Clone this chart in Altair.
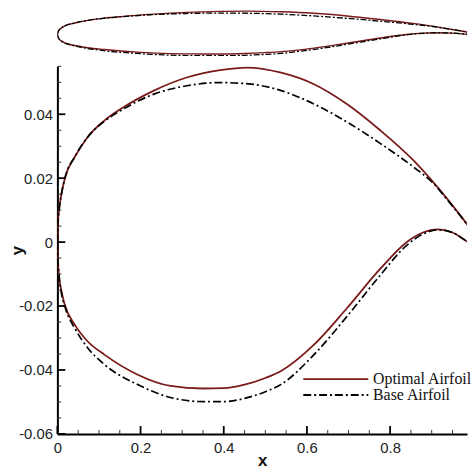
import altair as alt
import pandas as pd

# ---------------- data ----------------
series_names = ["Optimal Airfoil", "Base Airfoil"]

opt_upper_x = [0.0, 0.0015, 0.004, 0.009, 0.018, 0.042, 0.073, 0.113, 0.153, 0.232, 0.311,
               0.391, 0.456, 0.538, 0.617, 0.696, 0.776, 0.855, 0.919, 0.982, 1.0]
opt_upper_y = [0.0, 0.006, 0.0100, 0.0145, 0.0200, 0.0267, 0.0329, 0.0380, 0.0417, 0.0474, 0.0515,
               0.0538, 0.0546, 0.0530, 0.0494, 0.0432, 0.0350, 0.0257, 0.0164, 0.0061, 0.0030]

opt_lower_x = [0.0, 0.0015, 0.004, 0.009, 0.018, 0.042, 0.073, 0.113, 0.192, 0.272, 0.351, 0.400,
               0.450, 0.500, 0.538, 0.617, 0.696, 0.776, 0.839, 0.879, 0.915, 0.950, 0.987, 1.0]
opt_lower_y = [0.0, -0.006, -0.0105, -0.0148, -0.0197, -0.0259, -0.0311, -0.0352, -0.0414, -0.0450,
               -0.0458, -0.0457, -0.0446, -0.0425, -0.0403, -0.0321, -0.0207, -0.0084, -0.0001,
               0.0030, 0.0040, 0.0030, 0.0000, -0.0010]

base_upper_x = [0.0, 0.0015, 0.004, 0.009, 0.018, 0.042, 0.073, 0.113, 0.153, 0.232, 0.311, 0.391,
                0.460, 0.538, 0.617, 0.696, 0.776, 0.855, 0.903, 0.950, 0.982, 1.0]
base_upper_y = [0.0, 0.006, 0.0100, 0.0145, 0.0200, 0.0267, 0.0329, 0.0378, 0.0412, 0.0463, 0.0489,
                0.0499, 0.0495, 0.0474, 0.0432, 0.0376, 0.0309, 0.0236, 0.0185, 0.0112, 0.0061, 0.0030]

base_lower_x = [0.0, 0.0015, 0.004, 0.009, 0.020, 0.042, 0.073, 0.113, 0.192, 0.272, 0.351, 0.400,
                0.450, 0.500, 0.538, 0.617, 0.696, 0.776, 0.839, 0.879, 0.915, 0.950, 0.987, 1.0]
base_lower_y = [0.0, -0.006, -0.0108, -0.0155, -0.0210, -0.0270, -0.0331, -0.0383, -0.0445, -0.0486,
                -0.0499, -0.0499, -0.0489, -0.0468, -0.0445, -0.0352, -0.0233, -0.0104, -0.0011,
                0.0025, 0.0038, 0.0030, 0.0000, -0.0010]

x_major = [0, 0.2, 0.4, 0.6, 0.8]
x_minor = [0.05, 0.1, 0.15, 0.25, 0.3, 0.35, 0.45, 0.5, 0.55, 0.65, 0.7, 0.75, 0.85, 0.9, 0.95]
y_major = [-0.06, -0.04, -0.02, 0, 0.02, 0.04]
y_minor = [-0.055, -0.05, -0.045, -0.035, -0.03, -0.025, -0.015, -0.01, -0.005,
           0.005, 0.01, 0.015, 0.025, 0.03, 0.035, 0.045, 0.05, 0.055]


def surface_df(xu, yu, xl, yl):
    up = pd.DataFrame({"x": xu, "y": yu, "surface": "upper"})
    lo = pd.DataFrame({"x": xl, "y": yl, "surface": "lower"})
    return pd.concat([up, lo], ignore_index=True)


opt_df = surface_df(opt_upper_x, opt_upper_y, opt_lower_x, opt_lower_y)
base_df = surface_df(base_upper_x, base_upper_y, base_lower_x, base_lower_y)

# ---------------- styling ----------------
RED = "#7a1a1a"
DASHDOT = [8, 3, 2, 3]
W = 414
H = 371.5
X_DOMAIN = [0, 0.985]
Y_DOMAIN = [-0.06, 0.055]
FONT = "Liberation Sans"

xs = alt.Scale(domain=X_DOMAIN, nice=False, zero=False)
ys = alt.Scale(domain=Y_DOMAIN, nice=False, zero=False)

x_axis = alt.Axis(values=x_major, title="x", labelFlush=False, labelOverlap=False, ticks=False,
                  labelFont=FONT, labelFontSize=15, labelColor="#222", labelPadding=7,
                  labelExpr="datum.value == 0 ? '0' : format(datum.value, '.1f')",
                  titleFont=FONT, titleFontSize=17, titleFontWeight="bold", titleColor="#111",
                  titleY=26.5, titleBaseline="middle",
                  domainColor="black", domainWidth=2, grid=False)
y_axis = alt.Axis(values=y_major, title="y", labelOverlap=False, ticks=False,
                  labelFont=FONT, labelFontSize=15, labelColor="#222", labelPadding=5,
                  labelExpr="datum.value == 0 ? '0' : (datum.value < 0 ? '-' : '') + format(abs(datum.value), '.2f')",
                  titleFont=FONT, titleFontSize=17, titleFontWeight="bold", titleColor="#111",
                  titleAngle=270, titleX=-40, titleY=H / 2, titleAlign="center", titleBaseline="middle",
                  domainColor="black", domainWidth=2, grid=False)


def X(field):
    return alt.X(field, scale=xs, axis=x_axis)


def Y(field):
    return alt.Y(field, scale=ys, axis=y_axis)


opt_main = alt.Chart(opt_df).mark_line(color=RED, strokeWidth=1.8, interpolate="monotone", clip=True).encode(
    x=X("x:Q"), y=Y("y:Q"), detail="surface:N")
base_main = alt.Chart(base_df).mark_line(color="black", strokeWidth=1.7, strokeDash=DASHDOT,
                                         interpolate="monotone", clip=True).encode(
    x=X("x:Q"), y=Y("y:Q"), detail="surface:N")

ymaj = alt.Chart(pd.DataFrame({"y": y_major})).mark_rule(color="black", strokeWidth=1.8).encode(
    y=Y("y:Q"), x=alt.value(0), x2=alt.value(8))
ymin = alt.Chart(pd.DataFrame({"y": y_minor})).mark_rule(color="#333", strokeWidth=1).encode(
    y=Y("y:Q"), x=alt.value(0), x2=alt.value(4))
xmaj = alt.Chart(pd.DataFrame({"x": x_major})).mark_rule(color="black", strokeWidth=1.8).encode(
    x=X("x:Q"), y=alt.value(H), y2=alt.value(H - 8))
xmin = alt.Chart(pd.DataFrame({"x": x_minor})).mark_rule(color="#333", strokeWidth=1).encode(
    x=X("x:Q"), y=alt.value(H), y2=alt.value(H - 4))

# manual legend (inside plot, bottom right)
LEG_X0, LEG_X1, LEG_TX = 248.5, 314.2, 319.0
LEG_Y = [316.2, 332.2]
leg_opt_line = alt.Chart(pd.DataFrame({"s": [series_names[0]]})).mark_rule(color=RED, strokeWidth=1.8).encode(
    x=alt.value(LEG_X0), x2=alt.value(LEG_X1), y=alt.value(LEG_Y[0]))
leg_base_line = alt.Chart(pd.DataFrame({"s": [series_names[1]]})).mark_rule(
    color="black", strokeWidth=1.8, strokeDash=DASHDOT).encode(
    x=alt.value(LEG_X0), x2=alt.value(LEG_X1), y=alt.value(LEG_Y[1]))
leg_opt_txt = alt.Chart(pd.DataFrame({"s": [series_names[0]]})).mark_text(
    align="left", baseline="middle", font="Liberation Serif", fontSize=16, color="#111").encode(
    text="s:N", x=alt.value(LEG_TX), y=alt.value(LEG_Y[0]))
leg_base_txt = alt.Chart(pd.DataFrame({"s": [series_names[1]]})).mark_text(
    align="left", baseline="middle", font="Liberation Serif", fontSize=16, color="#111").encode(
    text="s:N", x=alt.value(LEG_TX), y=alt.value(LEG_Y[1]))

main = alt.layer(opt_main, base_main, ymin, ymaj, xmin, xmaj,
                 leg_opt_line, leg_base_line, leg_opt_txt, leg_base_txt).properties(width=W, height=H)

# inset: airfoil drawn near true aspect ratio above the plot
ys_in = alt.Scale(domain=[-0.0503, 0.0701], nice=False, zero=False)
opt_in = alt.Chart(opt_df).mark_line(color=RED, strokeWidth=1.4, interpolate="monotone", clip=True).encode(
    x=alt.X("x:Q", scale=xs, axis=None), y=alt.Y("y:Q", scale=ys_in, axis=None), detail="surface:N")
base_in = alt.Chart(base_df).mark_line(color="black", strokeWidth=1.3, strokeDash=[6, 2, 2, 2],
                                       interpolate="monotone", clip=True).encode(
    x=alt.X("x:Q", scale=xs, axis=None), y=alt.Y("y:Q", scale=ys_in, axis=None), detail="surface:N")
inset = alt.layer(opt_in, base_in).properties(width=W, height=52)

chart = alt.vconcat(inset, main, spacing=9.5).resolve_scale(x="independent", y="independent").properties(
    padding={"left": 9, "top": 2, "right": 0, "bottom": 0},
    background="white",
).configure_view(stroke=None)

chart.save("out.html", embed_options={"renderer": "svg", "actions": False})
